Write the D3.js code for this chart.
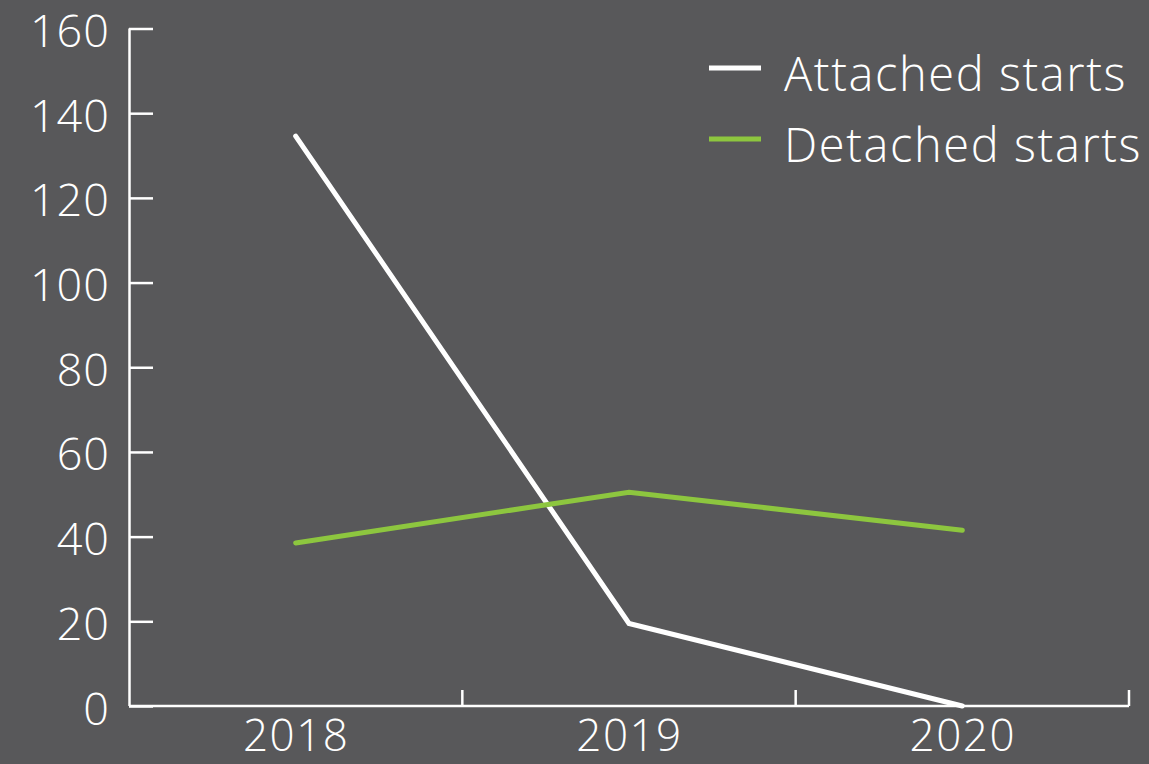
<!DOCTYPE html>
<html>
<head>
<meta charset="utf-8">
<script src="https://cdn.jsdelivr.net/npm/d3@7"></script>
<style>
  html, body { margin: 0; padding: 0; background: #58585a; }
  svg { display: block; }
  text { font-family: "Open Sans", Lato, sans-serif; font-weight: 300; fill: #ffffff; }
</style>
</head>
<body>
<svg id="chart" width="1149" height="764"></svg>
<script>
// Housing starts by year
const years = ["2018", "2019", "2020"];
const attachedStarts = [134.6, 19.5, 0];
const detachedStarts = [38.5, 50.5, 41.5];
const yTicks = [0, 20, 40, 60, 80, 100, 120, 140, 160];
const seriesNames = ["Attached starts", "Detached starts"];
const seriesColors = ["#ffffff", "#8dc63f"];

const svg = d3.select("#chart");
const W = 1149, H = 764;
const plotLeft = 129, plotRight = 1129, plotTop = 28.5, plotBottom = 706;
const axisFont = 45, xLabelFont = 44, legendFont = 47;

svg.append("rect").attr("width", W).attr("height", H).attr("fill", "#58585a");

const x = d3.scaleBand().domain(years).range([plotLeft, plotRight]).padding(0);
const y = d3.scaleLinear().domain([0, 160]).range([plotBottom, plotTop]);

// Y axis: ticks point into the plot
const yAxis = svg.append("g")
  .attr("transform", `translate(${plotLeft},0)`)
  .call(d3.axisRight(y).tickValues(yTicks).tickSize(24).tickFormat(() => ""));
yAxis.selectAll("path, line").attr("stroke", "#ffffff").attr("stroke-width", 2.5);
yAxis.select(".domain").attr("d", `M0.5,${plotTop}V${plotBottom}`);

svg.append("g").selectAll("text").data(yTicks).join("text")
  .attr("x", 110).attr("y", d => y(d) + 18.5)
  .attr("text-anchor", "end")
  .attr("font-size", axisFont)
  .attr("letter-spacing", 1)
  .text(d => d);

// X axis: ticks at band boundaries pointing up
const xBounds = years.map(d => x(d) + x.bandwidth());
const xAxisG = svg.append("g");
xAxisG.append("line")
  .attr("x1", plotLeft).attr("x2", plotRight)
  .attr("y1", plotBottom).attr("y2", plotBottom)
  .attr("stroke", "#ffffff").attr("stroke-width", 2.5);
xAxisG.selectAll("line.tick").data(xBounds).join("line")
  .attr("class", "tick")
  .attr("x1", d => d).attr("x2", d => d)
  .attr("y1", plotBottom).attr("y2", plotBottom - 16)
  .attr("stroke", "#ffffff").attr("stroke-width", 2.5);
xAxisG.selectAll("text").data(years).join("text")
  .attr("x", d => x(d) + x.bandwidth() / 2 + 0.5)
  .attr("y", 751)
  .attr("text-anchor", "middle")
  .attr("font-size", xLabelFont)
  .attr("letter-spacing", 1.5)
  .text(d => d);

// Lines
const line = d3.line()
  .x((d, i) => x(years[i]) + x.bandwidth() / 2)
  .y(d => y(d));

[attachedStarts, detachedStarts].forEach((vals, i) => {
  svg.append("path")
    .datum(vals)
    .attr("d", line)
    .attr("fill", "none")
    .attr("stroke", seriesColors[i])
    .attr("stroke-width", 5)
    .attr("stroke-linecap", "round")
    .attr("stroke-linejoin", "miter");
});

// Legend
const legend = svg.append("g");
const legendY = [68, 139];
seriesNames.forEach((name, i) => {
  legend.append("line")
    .attr("x1", 709).attr("x2", 761)
    .attr("y1", legendY[i]).attr("y2", legendY[i])
    .attr("stroke", seriesColors[i]).attr("stroke-width", 5);
  legend.append("text")
    .attr("x", 784).attr("y", legendY[i] + 23)
    .attr("font-size", legendFont)
    .attr("letter-spacing", 1.6)
    .text(name);
});
</script>
</body>
</html>
